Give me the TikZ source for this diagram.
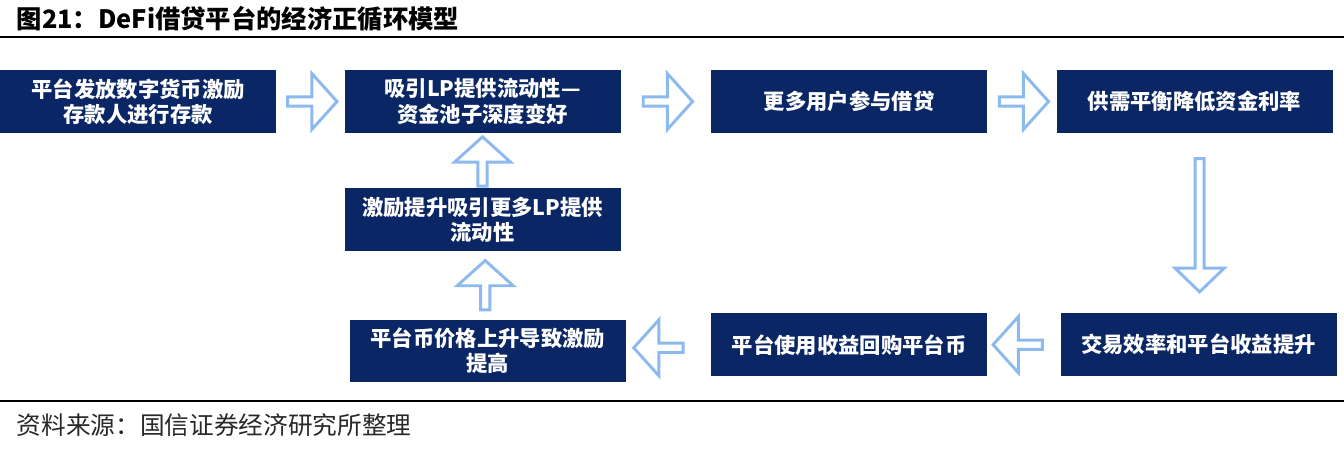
\documentclass[tikz,border=0pt]{standalone}
\usepackage{fontspec}
\setmainfont{Noto Sans CJK SC}
\usetikzlibrary{shapes.arrows, positioning, calc}
\definecolor{navy}{RGB}{10,38,100}
\definecolor{arrowblue}{RGB}{141,186,238}
\definecolor{srcgray}{RGB}{40,40,40}

\begin{document}
\begin{tikzpicture}[
    x=0.75pt, y=-0.75pt,
    box/.style={rectangle, fill=navy, text=white, minimum width=207pt, minimum height=47pt, inner sep=0pt, font=\fontsize{16}{19}\selectfont\bfseries, align=center},
    flow/.style={single arrow, draw=arrowblue, line width=2.2pt, fill=white, inner sep=0pt, minimum height=37pt, minimum width=42pt, single arrow head extend=5.5pt, single arrow tip angle=96},
    flowdown/.style={flow, shape border rotate=270, minimum height=100pt, minimum width=37pt, single arrow head extend=5pt, single arrow tip angle=92},
    rule/.style={draw=black, line width=#1}
]
\useasboundingbox (0,0) rectangle (1344,452);

% title and rules
\node[anchor=west, font=\fontsize{19}{22}\selectfont\bfseries] (title) at (12,19) {图21：DeFi借贷平台的经济正循环模型};
\draw[rule=1.6pt] (0,37) -- (1344,37);
\draw[rule=1pt] (0,401) -- (1344,401);
\node[anchor=west, font=\fontsize{18.5}{22}\selectfont, text=srcgray] (source) at (12,425) {资料来源：国信证券经济研究所整理};

% boxes
\node[box] (issue) at (138,101.5) {平台发放数字货币激励\\存款人进行存款};
\node[box, right=51pt of issue] (attract) {吸引LP提供流动性—\\资金池子深度变好};
\node[box, right=67.5pt of attract] (users) {更多用户参与借贷};
\node[box, right=51.75pt of users] (balance) {供需平衡降低资金利率};
\node[box, below=41.25pt of attract] (boost) {激励提升吸引更多LP提供\\流动性};
\node[box, below=51pt of boost, xshift=4pt] (price) {平台币价格上升导致激励\\提高};
\node[box, below=135pt of users] (buyback) {平台使用收益回购平台币};
\node[box, right=54.75pt of buyback] (revenue) {交易效率和平台收益提升};

% block arrows
\node[flow] (a1) at ($(issue.east)!.5!(attract.west)$) {};
\node[flow] (a2) at ($(attract.east)!.5!(users.west)$) {};
\node[flow] (a3) at ($(users.east)!.5!(balance.west)$) {};
\node[flowdown] (a4) at ($(balance.south)!.5!(revenue.north)+(3,0)$) {};
\node[flow, shape border rotate=180] (a5) at ($(revenue.west)!.5!(buyback.east)+(-4,0)$) {};
\node[flow, shape border rotate=180] (a6) at ($(buyback.west)!.5!(price.east)+(-8,0)$) {};
\node[flow, shape border rotate=90] (a7) at ($(price.north)!.5!(boost.south)+(0,2)$) {};
\node[flow, shape border rotate=90] (a8) at ($(boost.north)!.5!(attract.south)+(0,3)$) {};
\end{tikzpicture}
\end{document}
